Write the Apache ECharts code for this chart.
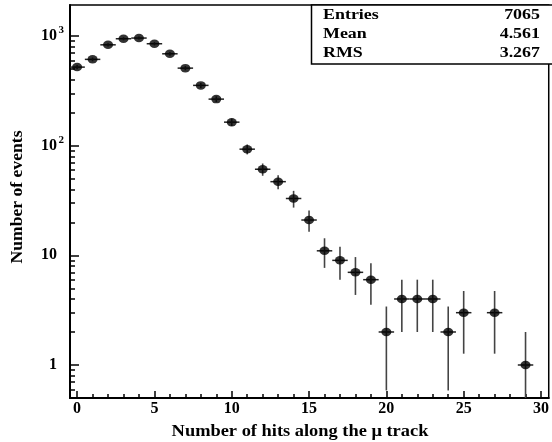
<!DOCTYPE html>
<html><head><meta charset="utf-8">
<script src="https://cdn.jsdelivr.net/npm/echarts@6/dist/echarts.min.js"></script>
<style>html,body{margin:0;padding:0;background:#fff}#c{width:552px;height:442px}</style>
</head><body><div id="c"></div><script>
// ---- data ----
const bins = [0,1,2,3,4,5,6,7,8,9,10,11,12,13,14,15,16,17,18,19,20,21,22,23,24,25,26,27,28,29];
const counts = [521,613,832,945,959,851,689,510,355,266,164,93,61,47,33,21,11,9,7,6,2,4,4,4,2,3,0,3,0,1];
const xMajorTicks = [0,5,10,15,20,25,30];
const xMinorTicks = [1,2,3,4,6,7,8,9,11,12,13,14,16,17,18,19,21,22,23,24,26,27,28,29];
const yMajorTicks = [1,10,100,1000];
const yMinorTicks = [0.6,0.7,0.8,0.9,2,3,4,5,6,7,8,9,20,30,40,50,60,70,80,90,200,300,400,500,600,700,800,900];
const statsLabels = ['Entries','Mean','RMS'];
const statsValues = ['7065','4.561','3.267'];
const xTitle = 'Number of hits along the \u03bc track';
const yTitle = 'Number of events';

const X_MIN = -0.46, X_MAX = 30.5, Y_MIN = 0.5, Y_MAX = 1920;
const FONT = '"Liberation Serif","Times New Roman",serif';

const pts = [];
const errs = [];
bins.forEach((b, i) => {
  const n = counts[i];
  if (n > 0) {
    pts.push([b, n]);
    const e = Math.sqrt(n);
    errs.push([b, n, Math.max(n - e, Y_MIN), n + e]);
  }
});

const chart = echarts.init(document.getElementById('c'), null, {renderer: 'canvas'});

function yLabel(v) {
  const p = Math.round(Math.log10(v));
  if (p === 0) return '{b|1}{e| }';
  if (p === 1) return '{b|10}{e| }';
  return '{b|10}{s|' + p + '}';
}

const option = {
  backgroundColor: '#fff',
  animation: false,
  grid: {left: 70, top: 5, right: -4, bottom: 44, show: true, borderColor: '#000', borderWidth: 1.5, backgroundColor: 'transparent'},
  xAxis: [
    {
      type: 'value', min: X_MIN, max: X_MAX, position: 'bottom',
      axisLine: {show: true, onZero: false, lineStyle: {color: '#000', width: 2}},
      axisTick: {show: true, inside: true, length: 7, customValues: xMajorTicks, lineStyle: {color: '#000', width: 1.5}},
      axisLabel: {show: true, customValues: xMajorTicks, margin: 3, color: '#000', fontFamily: FONT, fontWeight: 'bold', fontSize: 16},
      splitLine: {show: false}
    },
    {
      type: 'value', min: X_MIN, max: X_MAX, position: 'bottom',
      axisLine: {show: false, onZero: false},
      axisTick: {show: true, inside: true, length: 4, customValues: xMinorTicks, lineStyle: {color: '#000', width: 1.5}},
      axisLabel: {show: false},
      splitLine: {show: false}
    }
  ],
  yAxis: [
    {
      type: 'log', logBase: 10, min: Y_MIN, max: Y_MAX, position: 'left',
      axisLine: {show: true, onZero: false, lineStyle: {color: '#000', width: 2}},
      axisTick: {show: true, inside: true, length: 9, customValues: yMajorTicks, lineStyle: {color: '#000', width: 1.5}},
      axisLabel: {
        show: true, customValues: yMajorTicks, margin: 6, formatter: yLabel,
        rich: {
          b: {fontFamily: FONT, fontWeight: 'bold', fontSize: 16, color: '#000', lineHeight: 16},
          s: {fontFamily: FONT, fontWeight: 'bold', fontSize: 11, color: '#000', lineHeight: 11, width: 7, padding: [0, 0, 12, 0]},
          e: {fontFamily: FONT, fontSize: 11, color: '#000', lineHeight: 11, width: 7, padding: [0, 0, 12, 0]}
        }
      },
      splitLine: {show: false}
    },
    {
      type: 'log', logBase: 10, min: Y_MIN, max: Y_MAX, position: 'left',
      axisLine: {show: false, onZero: false},
      axisTick: {show: true, inside: true, length: 5, customValues: yMinorTicks, lineStyle: {color: '#000', width: 1.5}},
      axisLabel: {show: false},
      splitLine: {show: false}
    }
  ],
  series: [
    {
      type: 'custom', xAxisIndex: 0, yAxisIndex: 0, data: errs, clip: true,
      encode: {x: 0, y: 1},
      renderItem: function (params, api) {
        const x = api.value(0), y = api.value(1), lo = api.value(2), hi = api.value(3);
        const pL = api.coord([x - 0.5, y]), pR = api.coord([x + 0.5, y]);
        const pT = api.coord([x, hi]), pB = api.coord([x, lo]);
        return {type: 'group', children: [
          {type: 'line', shape: {x1: pL[0], y1: pL[1], x2: pR[0], y2: pR[1]}, style: {stroke: '#222', lineWidth: 1.5}},
          {type: 'line', shape: {x1: pT[0], y1: pT[1], x2: pB[0], y2: pB[1]}, style: {stroke: '#444', lineWidth: 1.6}}
        ]};
      },
      z: 2
    },
    {
      type: 'scatter', xAxisIndex: 0, yAxisIndex: 0, data: pts,
      symbol: 'circle', symbolSize: [10, 8.5],
      itemStyle: {color: '#000'}, z: 3
    }
  ],
  graphic: [
    {type: 'rect', shape: {x: 311.5, y: 5, width: 260, height: 59}, style: {fill: '#fff', stroke: '#000', lineWidth: 1.5}, z: 10},
    ...statsLabels.map((t, i) => ({
      type: 'text', x: 323, y: 15 + i * 19.3, scaleX: 1.28, z: 11,
      style: {text: t, font: 'bold 14px ' + FONT, fill: '#000', textAlign: 'left', textVerticalAlign: 'middle'}
    })),
    ...statsValues.map((t, i) => ({
      type: 'text', x: 540, y: 15 + i * 19.3, scaleX: 1.28, z: 11,
      style: {text: t, font: 'bold 14px ' + FONT, fill: '#000', textAlign: 'right', textVerticalAlign: 'middle'}
    })),
    {type: 'text', x: 300, y: 432, scaleX: 1.15, z: 11,
      style: {text: xTitle, font: 'bold 16px ' + FONT, fill: '#000', textAlign: 'center', textVerticalAlign: 'middle'}},
    {type: 'text', x: 18, y: 197, rotation: Math.PI / 2, scaleX: 1.1, z: 11,
      style: {text: yTitle, font: 'bold 16px ' + FONT, fill: '#000', textAlign: 'center', textVerticalAlign: 'middle'}}
  ]
};
chart.setOption(option);
</script></body></html>
